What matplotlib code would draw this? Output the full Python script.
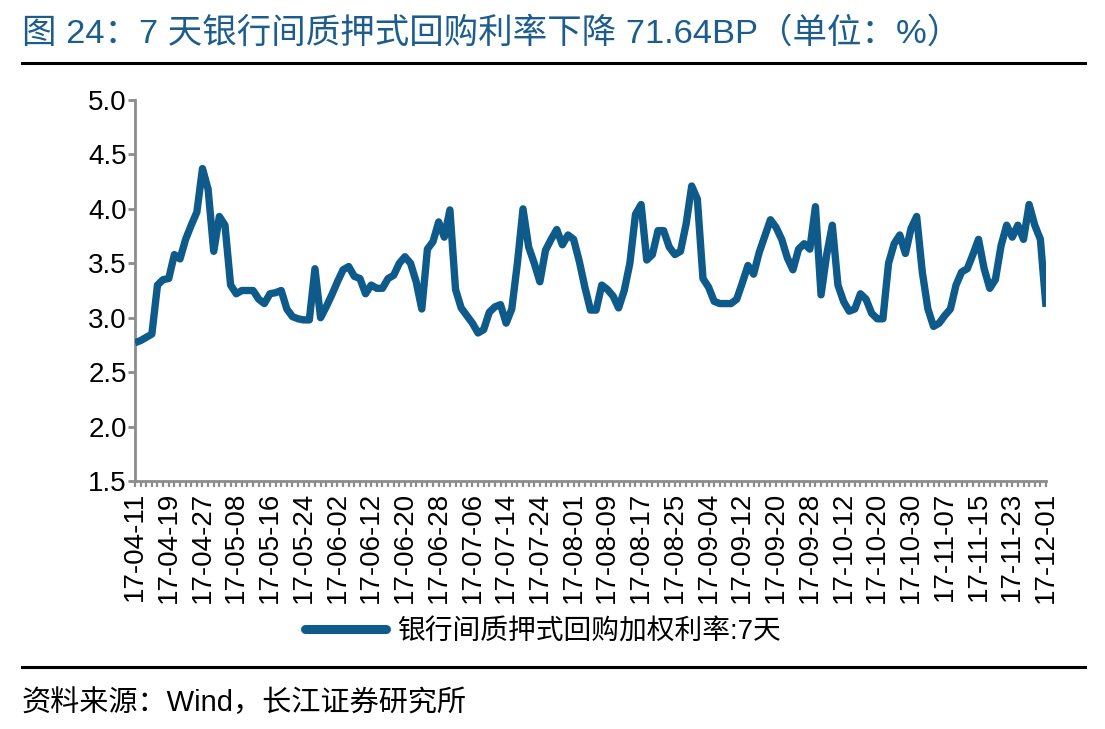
import matplotlib
matplotlib.use("Agg")
import matplotlib.pyplot as plt
from matplotlib.lines import Line2D

plt.rcParams['font.family'] = ['Liberation Sans', 'Noto Sans CJK SC', 'DejaVu Sans']

# ---------------- data ----------------
tick_labels = ['17-04-11', '17-04-19', '17-04-27', '17-05-08', '17-05-16', '17-05-24',
               '17-06-02', '17-06-12', '17-06-20', '17-06-28', '17-07-06', '17-07-14',
               '17-07-24', '17-08-01', '17-08-09', '17-08-17', '17-08-25', '17-09-04',
               '17-09-12', '17-09-20', '17-09-28', '17-10-12', '17-10-20', '17-10-30',
               '17-11-07', '17-11-15', '17-11-23', '17-12-01']

rate_7d = [2.77, 2.79, 2.82, 2.85, 3.30, 3.35, 3.36, 3.58, 3.54, 3.72,
           3.85, 3.97, 4.37, 4.18, 3.61, 3.93, 3.85, 3.30, 3.22, 3.25,
           3.25, 3.25, 3.17, 3.13, 3.22, 3.23, 3.25, 3.08, 3.01, 2.99,
           2.98, 2.98, 3.45, 3.00, 3.10, 3.21, 3.33, 3.44, 3.47, 3.38,
           3.36, 3.22, 3.30, 3.27, 3.27, 3.36, 3.39, 3.50, 3.56, 3.50,
           3.33, 3.08, 3.63, 3.70, 3.88, 3.74, 3.99, 3.26, 3.09, 3.02,
           2.95, 2.86, 2.89, 3.05, 3.10, 3.12, 2.95, 3.08, 3.50, 4.00,
           3.65, 3.50, 3.33, 3.62, 3.72, 3.81, 3.67, 3.76, 3.72, 3.52,
           3.28, 3.07, 3.07, 3.30, 3.26, 3.20, 3.09, 3.25, 3.50, 3.95,
           4.04, 3.53, 3.58, 3.80, 3.80, 3.65, 3.58, 3.61, 3.86, 4.21,
           4.09, 3.36, 3.28, 3.15, 3.13, 3.13, 3.13, 3.17, 3.32, 3.48,
           3.40, 3.60, 3.75, 3.90, 3.83, 3.72, 3.55, 3.44, 3.63, 3.68,
           3.63, 4.02, 3.21, 3.58, 3.85, 3.30, 3.15, 3.06, 3.08, 3.22,
           3.17, 3.04, 2.99, 2.99, 3.50, 3.68, 3.76, 3.59, 3.82, 3.93,
           3.42, 3.08, 2.92, 2.95, 3.02, 3.08, 3.30, 3.42, 3.45, 3.58,
           3.72, 3.45, 3.27, 3.35, 3.66, 3.85, 3.74, 3.85, 3.72, 4.04,
           3.85, 3.72, 3.10]

y_ticks = [1.5, 2.0, 2.5, 3.0, 3.5, 4.0, 4.5, 5.0]
series_name = '银行间质押式回购加权利率:7天'
title_text = '图 24：7 天银行间质押式回购利率下降 71.64BP（单位：%）'
source_text = '资料来源：Wind，长江证券研究所'

# ---------------- style ----------------
W, H = 1105, 729
LINE_COLOR = '#0D5A8B'
TITLE_COLOR = '#1C5D8E'
AXIS_GRAY = '#8C8C8C'
label_step = 6

fig = plt.figure(figsize=(W / 100, H / 100), dpi=100)
fig.patch.set_facecolor('white')

ax_left, ax_right, ax_top, ax_bottom = 135, 1046, 100, 481
ax = fig.add_axes([ax_left / W, 1 - ax_bottom / H,
                   (ax_right - ax_left) / W, (ax_bottom - ax_top) / H])

x = list(range(len(rate_7d)))
ax.plot(x, rate_7d, color=LINE_COLOR, lw=5.3,
        solid_joinstyle='round', solid_capstyle='butt', zorder=3)

ax.set_xlim(0, len(rate_7d) - 1)
ax.set_ylim(y_ticks[0], y_ticks[-1])
ax.set_yticks(y_ticks)
ax.set_yticklabels([f'{v:.1f}' for v in y_ticks], fontsize=20)

major_pos = list(range(0, len(rate_7d), label_step))
ax.set_xticks(major_pos)
ax.set_xticklabels(tick_labels, rotation=90, fontsize=20, va='top', ha='center')
ax.set_xticks(x, minor=True)

for side in ('top', 'right'):
    ax.spines[side].set_visible(False)
for side in ('left', 'bottom'):
    ax.spines[side].set_color(AXIS_GRAY)
    ax.spines[side].set_linewidth(2.0)

ax.tick_params(axis='y', which='major', direction='out', length=5, width=2,
               color=AXIS_GRAY, pad=0.8, labelcolor='black')
ax.tick_params(axis='x', which='major', direction='out', length=4.5, width=1.6,
               color=AXIS_GRAY, pad=3.5, labelcolor='black')
ax.tick_params(axis='x', which='minor', direction='out', length=4.5, width=1.6,
               color=AXIS_GRAY)

# legend
handle = Line2D([0], [0], color=LINE_COLOR, lw=6.5, solid_capstyle='round')
fig.legend([handle], [series_name], loc='center',
           bbox_to_anchor=(543 / W, 1 - 632 / H), frameon=False, fontsize=20,
           handlelength=2.9, handletextpad=0.4)

# title and rules
fig.text(22 / W, 1 - 33 / H, title_text, fontsize=24.8, color=TITLE_COLOR,
         ha='left', va='center')
fig.add_artist(Line2D([22 / W, 1085 / W], [1 - 63 / H] * 2, color='black',
                      lw=2.2, transform=fig.transFigure))
fig.add_artist(Line2D([22 / W, 1085 / W], [1 - 667 / H] * 2, color='black',
                      lw=2.2, transform=fig.transFigure))
fig.text(22 / W, 1 - 703 / H, source_text, fontsize=21, color='black',
         ha='left', va='center')

fig.savefig('out.png', dpi=100, facecolor='white')
